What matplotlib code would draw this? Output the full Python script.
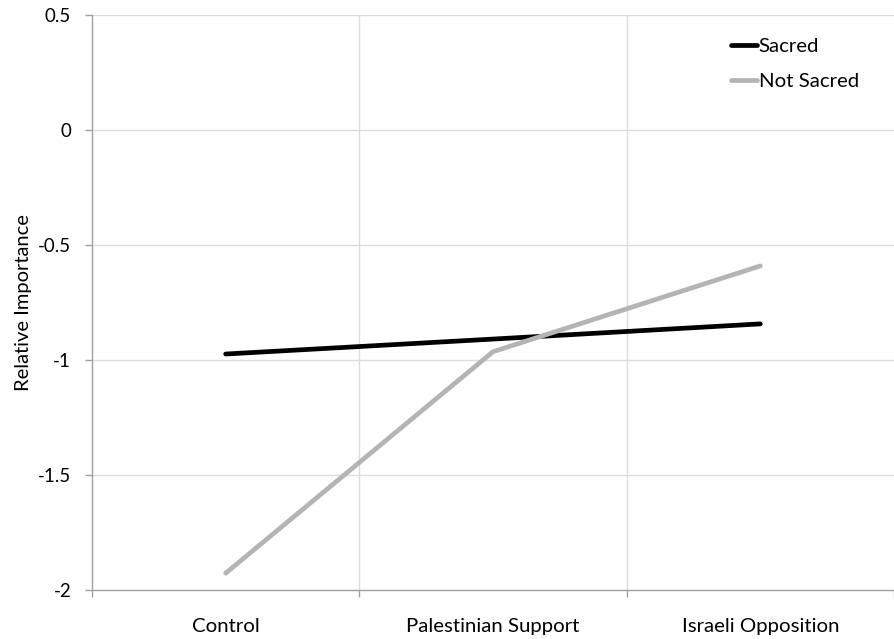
import matplotlib
matplotlib.use("Agg")
import matplotlib.pyplot as plt

categories = ["Control", "Palestinian Support", "Israeli Opposition"]
sacred = [-0.974, -0.909, -0.843]
not_sacred = [-1.927, -0.964, -0.591]
yticks = [0.5, 0, -0.5, -1, -1.5, -2]
ytick_labels = ["0.5", "0", "-0.5", "-1", "-1.5", "-2"]

plt.rcParams['font.family'] = ['Lato', 'DejaVu Sans']

fig = plt.figure(figsize=(8.94, 6.39), dpi=100)
ax = fig.add_axes([92/894, 49/639, (894-92)/894, 575/639])

x = [i + 0.5 for i in range(len(categories))]
ax.plot(x, sacred, color="black", lw=3.4, solid_capstyle="round", label="Sacred", zorder=3)
ax.plot(x, not_sacred, color="#b4b4b4", lw=3.4, solid_capstyle="round", label="Not Sacred", zorder=3)

ax.set_xlim(0, (894-92)/270.3)
ax.set_ylim(-2, 0.5)

ax.set_yticks(yticks)
ax.set_yticklabels(ytick_labels, fontsize=13.5)
ax.tick_params(axis='y', length=5, width=1, color="#a0a0a0", pad=10)

ax.set_xticks(x)
ax.set_xticklabels(categories, fontsize=14.7)
ax.tick_params(axis='x', which='major', length=0, pad=20)
ax.set_xticks([0, 1, 2, 3], minor=True)
ax.tick_params(axis='x', which='minor', length=5, width=1, color="#a0a0a0", direction='out')

for v in yticks[:-1]:
    ax.axhline(v, color="#dcdcdc", lw=1, zorder=1)
for b in [1, 2]:
    ax.axvline(b, color="#dcdcdc", lw=1, zorder=1)

for s in ["top", "right"]:
    ax.spines[s].set_visible(False)
for s in ["left", "bottom"]:
    ax.spines[s].set_color("#a0a0a0")
    ax.spines[s].set_linewidth(1)

ax.set_ylabel("Relative Importance", fontsize=14.5, labelpad=4)

leg = ax.legend(loc="upper left", bbox_to_anchor=((731-92)/802, 1 - (38-15)/575),
                frameon=False, fontsize=14.7, handlelength=1.25, handletextpad=0.1,
                labelspacing=0.85, borderaxespad=0, borderpad=0)

fig.savefig("out.png", dpi=100)
